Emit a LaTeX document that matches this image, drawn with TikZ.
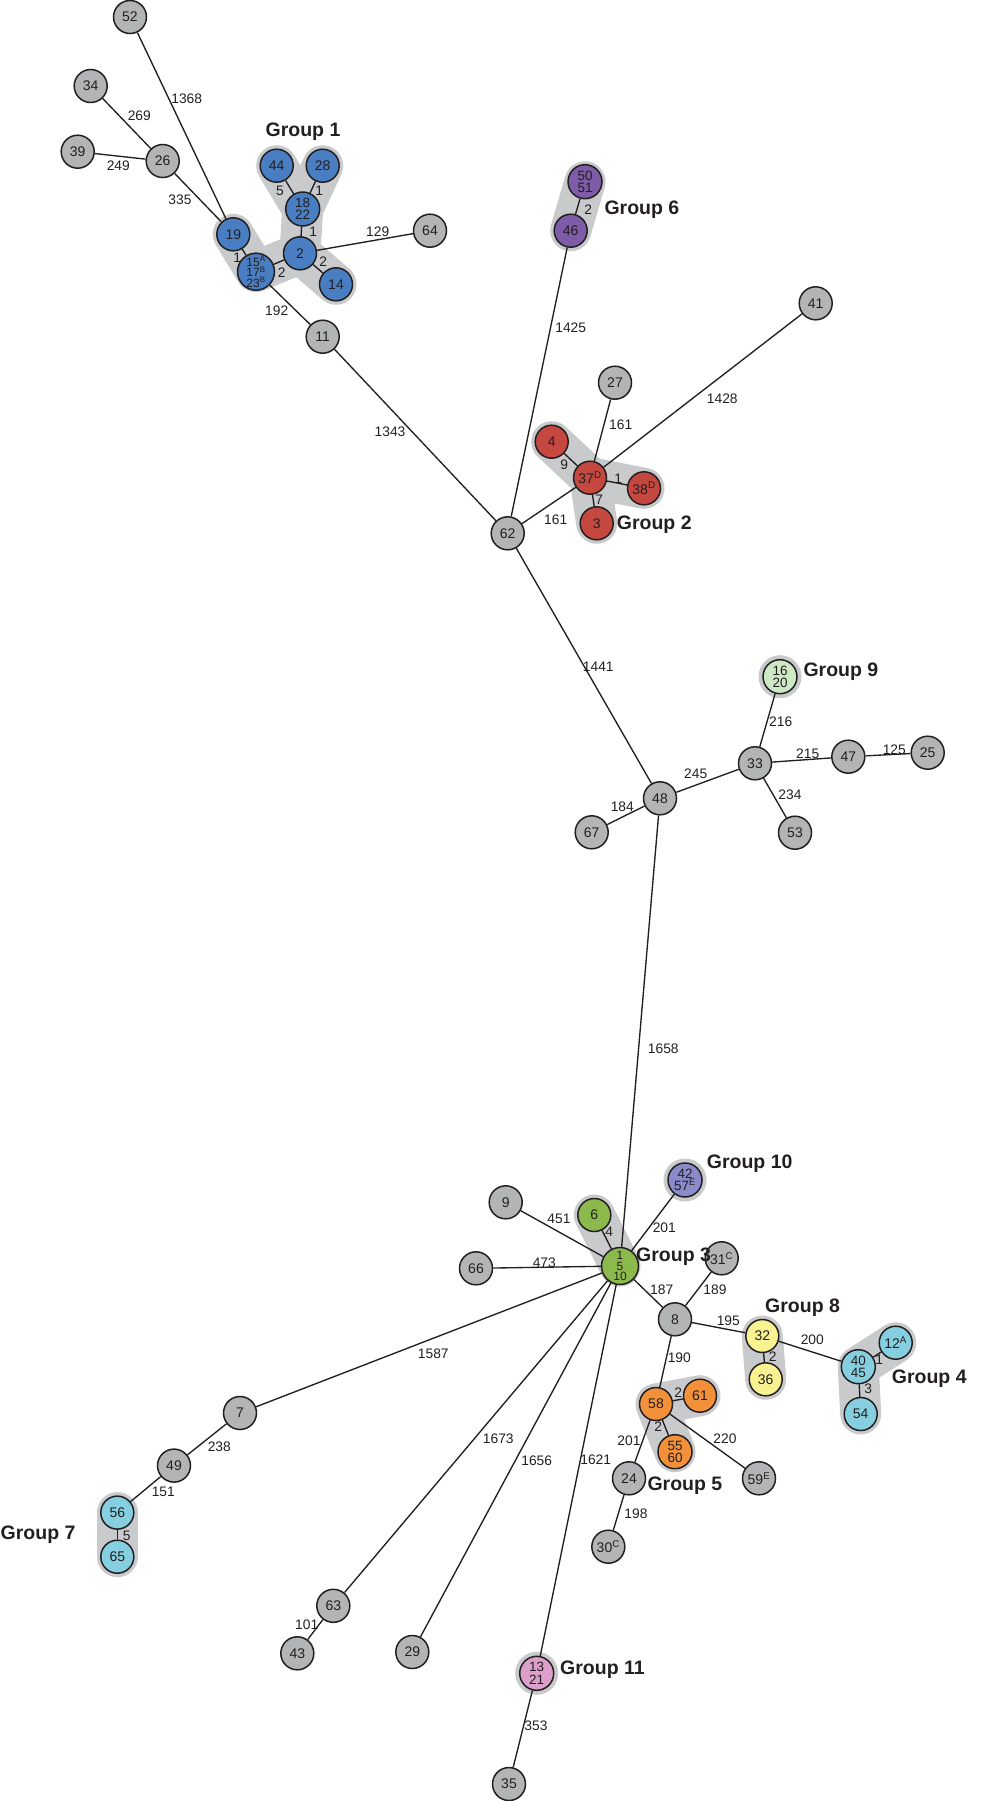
\documentclass[tikz,border=0pt]{standalone}
\usepackage{fontspec}
\setmainfont{Liberation Sans}
\usetikzlibrary{backgrounds}
\definecolor{ngray}{HTML}{B3B4B6}
\definecolor{halocol}{HTML}{C9CACC}
\definecolor{cblue}{HTML}{4A7EC2}
\definecolor{cred}{HTML}{C4483F}
\definecolor{cpurple}{HTML}{7F5CA8}
\definecolor{cgreen}{HTML}{8CB94C}
\definecolor{clgreen}{HTML}{CDE8C4}
\definecolor{clav}{HTML}{8B8BCB}
\definecolor{cyellow}{HTML}{F8F291}
\definecolor{corange}{HTML}{F3913A}
\definecolor{ccyan}{HTML}{86CFE0}
\definecolor{cpink}{HTML}{DC9FCB}
\definecolor{ink}{HTML}{231F20}
\newcommand{\sups}[1]{\textsuperscript{#1}}
\tikzset{
  nd/.style={circle, draw=ink, line width=1.5pt, minimum size=33pt, inner sep=0pt,
             font=\fontsize{14}{14}\selectfont, text=ink, align=center},
  gr/.style={nd, fill=ngray},
  twoline/.style={minimum size=34pt, font=\fontsize{13.5}{12.5}\selectfont},
  threeline/.style={minimum size=37pt, font=\fontsize{12}{10.5}\selectfont},
  ed/.style={draw=ink, line width=1.35pt},
  elab/.style={inner sep=0pt, font=\fontsize{13.8}{14}\selectfont, text=ink},
  glab/.style={inner sep=0pt, anchor=west, font=\fontsize{19.5}{20}\selectfont\bfseries, text=ink},
  halo/.style={draw=halocol, line width=41pt, line cap=round, line join=round}
}
\begin{document}
\begin{tikzpicture}[x=1pt,y=-1pt]
\useasboundingbox (0,0) rectangle (1008,1801);

% ---------- gray nodes ----------
\node[gr] (n52) at (130,17) {52};
\node[gr] (n34) at (90.7,86) {34};
\node[gr] (n39) at (77.7,151.7) {39};
\node[gr] (n26) at (162.7,161) {26};
\node[gr] (n64) at (430,230.7) {64};
\node[gr] (n11) at (322.7,336.7) {11};
\node[gr] (n62) at (507.7,533.3) {62};
\node[gr] (n27) at (615,382.7) {27};
\node[gr] (n41) at (815.7,303.3) {41};
\node[gr] (n48) at (660,798.3) {48};
\node[gr] (n67) at (591.7,832.3) {67};
\node[gr] (n33) at (755,763.3) {33};
\node[gr] (n47) at (848.3,756.7) {47};
\node[gr] (n25) at (927.7,752.7) {25};
\node[gr] (n53) at (795,832.7) {53};
\node[gr] (n9) at (505.7,1202.3) {9};
\node[gr] (n66) at (476,1268.3) {66};
\node[gr] (n31) at (721.7,1258.3) {31\sups{C}};
\node[gr] (n8) at (675,1319.3) {8};
\node[gr] (n59) at (759,1478.3) {59\sups{E}};
\node[gr] (n24) at (629,1478.3) {24};
\node[gr] (n30) at (608.3,1546.7) {30\sups{C}};
\node[gr] (n7) at (240,1413) {7};
\node[gr] (n49) at (174,1465.6) {49};
\node[gr] (n63) at (333.3,1605.8) {63};
\node[gr] (n43) at (297.3,1653.3) {43};
\node[gr] (n29) at (412.3,1652) {29};
\node[gr] (n35) at (509,1784) {35};

% ---------- group 1 ----------
\node[nd, fill=cblue] (n19) at (233.3,234.3) {19};
\node[nd, threeline, fill=cblue] (n15) at (256,271.7) {15\sups{A}\\17\sups{B}\\23\sups{B}};
\node[nd, fill=cblue] (n2) at (300,253.3) {2};
\node[nd, fill=cblue] (n14) at (336,284.3) {14};
\node[nd, twoline, fill=cblue] (n18) at (302.7,209) {18\\22};
\node[nd, fill=cblue] (n44) at (276.7,165.7) {44};
\node[nd, fill=cblue] (n28) at (322.7,165.7) {28};
% ---------- group 2 ----------
\node[nd, fill=cred] (n4) at (551.7,441.7) {4};
\node[nd, fill=cred] (n37) at (590,477.7) {37\sups{D}};
\node[nd, fill=cred] (n38) at (644,488.3) {38\sups{D}};
\node[nd, fill=cred] (n3) at (596.7,523.3) {3};
% ---------- group 6 ----------
\node[nd, twoline, fill=cpurple] (n50) at (585,181.7) {50\\51};
\node[nd, fill=cpurple] (n46) at (570.7,230.7) {46};
% ---------- group 9 ----------
\node[nd, twoline, fill=clgreen] (n16) at (780,676.7) {16\\20};
% ---------- group 3 ----------
\node[nd, fill=cgreen] (n6) at (594.3,1215) {6};
\node[nd, threeline, fill=cgreen] (n1) at (620,1266) {1\\5\\10};
% ---------- group 10 ----------
\node[nd, twoline, fill=clav] (n42) at (685,1180) {42\\57\sups{E}};
% ---------- group 8 ----------
\node[nd, fill=cyellow] (n32) at (762.3,1336) {32};
\node[nd, fill=cyellow] (n36) at (765.7,1379.3) {36};
% ---------- group 4 ----------
\node[nd, twoline, fill=ccyan] (n40) at (858.3,1366.7) {40\\45};
\node[nd, fill=ccyan] (n12) at (895.7,1342.7) {12\sups{A}};
\node[nd, fill=ccyan] (n54) at (860.7,1414) {54};
% ---------- group 5 ----------
\node[nd, fill=corange] (n58) at (656,1404) {58};
\node[nd, fill=corange] (n61) at (700,1395.7) {61};
\node[nd, twoline, fill=corange] (n55) at (675,1451.7) {55\\60};
% ---------- group 7 ----------
\node[nd, fill=ccyan] (n56) at (117.3,1512.6) {56};
\node[nd, fill=ccyan] (n65) at (117.3,1556.7) {65};
% ---------- group 11 ----------
\node[nd, twoline, fill=cpink] (n13) at (536.7,1673.3) {13\\21};

% ---------- edges ----------
\draw[ed] (n52) -- (n19);
\draw[ed] (n26) -- (n19);
\draw[ed] (n34) -- (n26);
\draw[ed] (n39) -- (n26);
\draw[ed] (n19) -- (n15);
\draw[ed] (n15) -- (n2);
\draw[ed] (n15) -- (n11);
\draw[ed] (n2) -- (n18);
\draw[ed] (n18) -- (n44);
\draw[ed] (n18) -- (n28);
\draw[ed] (n2) -- (n14);
\draw[ed] (n2) -- (n64);
\draw[ed] (n11) -- (n62);
\draw[ed] (n62) -- (n46);
\draw[ed] (n46) -- (n50);
\draw[ed] (n62) -- (n37);
\draw[ed] (n37) -- (n4);
\draw[ed] (n37) -- (n38);
\draw[ed] (n37) -- (n3);
\draw[ed] (n37) -- (n27);
\draw[ed] (n37) -- (n41);
\draw[ed] (n62) -- (n48);
\draw[ed] (n48) -- (n67);
\draw[ed] (n48) -- (n33);
\draw[ed] (n33) -- (n16);
\draw[ed] (n33) -- (n47);
\draw[ed] (n47) -- (n25);
\draw[ed] (n33) -- (n53);
\draw[ed] (n48) -- (n1);
\draw[ed] (n1) -- (n9);
\draw[ed] (n1) -- (n6);
\draw[ed] (n1) -- (n66);
\draw[ed] (n1) -- (n42);
\draw[ed] (n1) -- (n8);
\draw[ed] (n1) -- (n7);
\draw[ed] (n1) -- (n63);
\draw[ed] (n1) -- (n29);
\draw[ed] (n1) -- (n13);
\draw[ed] (n8) -- (n31);
\draw[ed] (n8) -- (n32);
\draw[ed] (n8) -- (n58);
\draw[ed] (n32) -- (n36);
\draw[ed] (n32) -- (n40);
\draw[ed] (n40) -- (n12);
\draw[ed] (n40) -- (n54);
\draw[ed] (n58) -- (n61);
\draw[ed] (n58) -- (n55);
\draw[ed] (n58) -- (n59);
\draw[ed] (n58) -- (n24);
\draw[ed] (n24) -- (n30);
\draw[ed] (n7) -- (n49);
\draw[ed] (n49) -- (n56);
\draw[ed] (n56) -- (n65);
\draw[ed] (n63) -- (n43);
\draw[ed] (n13) -- (n35);

% ---------- edge labels ----------
\node[elab] (l1) at (186.7,99) {1368};
\node[elab] (l2) at (139.3,116) {269};
\node[elab] (l3) at (118.3,165.7) {249};
\node[elab] (l4) at (180,200) {335};
\node[elab] (l5) at (280,191) {5};
\node[elab] (l6) at (319.3,191) {1};
\node[elab] (l7) at (313.3,231.7) {1};
\node[elab] (l8) at (377.7,231.7) {129};
\node[elab] (l9) at (323.3,261.7) {2};
\node[elab] (l10) at (281.7,272.3) {2};
\node[elab] (l11) at (237.3,257.7) {1};
\node[elab] (l12) at (276.7,310.7) {192};
\node[elab] (l13) at (390,431.7) {1343};
\node[elab] (l14) at (570.7,327.3) {1425};
\node[elab] (l15) at (588.3,209.3) {2};
\node[elab] (l16) at (722.3,398.3) {1428};
\node[elab] (l17) at (620.7,424.3) {161};
\node[elab] (l18) at (564.3,464.3) {9};
\node[elab] (l19) at (618.3,478.3) {1};
\node[elab] (l20) at (599.3,499.3) {7};
\node[elab] (l21) at (555.7,520) {161};
\node[elab] (l22) at (598.3,666.7) {1441};
\node[elab] (l23) at (780.7,721.7) {216};
\node[elab] (l24) at (807.7,753.3) {215};
\node[elab] (l25) at (894.3,749.3) {125};
\node[elab] (l26) at (695.7,773.3) {245};
\node[elab] (l27) at (790,795) {234};
\node[elab] (l28) at (622.3,806.7) {184};
\node[elab] (l29) at (663.3,1048.3) {1658};
\node[elab] (l30) at (664.3,1227.7) {201};
\node[elab] (l31) at (609.3,1231.7) {4};
\node[elab] (l32) at (559,1219.3) {451};
\node[elab] (l33) at (544.3,1262.3) {473};
\node[elab] (l34) at (661.7,1289.3) {187};
\node[elab] (l35) at (715,1289.3) {189};
\node[elab] (l36) at (728.3,1321) {195};
\node[elab] (l37) at (812.3,1340) {200};
\node[elab] (l38) at (772.7,1356.7) {2};
\node[elab] (l39) at (879.3,1360) {1};
\node[elab] (l40) at (868.3,1388.3) {3};
\node[elab] (l41) at (679.3,1357.7) {190};
\node[elab] (l42) at (678.3,1392.3) {2};
\node[elab] (l43) at (658.3,1426.7) {2};
\node[elab] (l44) at (725,1438.3) {220};
\node[elab] (l45) at (629,1441) {201};
\node[elab] (l46) at (636,1514) {198};
\node[elab] (l47) at (498.3,1439) {1673};
\node[elab] (l48) at (536.7,1461) {1656};
\node[elab] (l49) at (595.7,1460) {1621};
\node[elab] (l50) at (433.3,1353.3) {1587};
\node[elab] (l51) at (219.3,1447) {238};
\node[elab] (l52) at (163.3,1492.3) {151};
\node[elab] (l53) at (126.7,1535.5) {5};
\node[elab] (l54) at (306.7,1624.5) {101};
\node[elab] (l55) at (536,1726) {353};

% ---------- group labels ----------
\node[glab, anchor=center] (g1) at (303,132) {Group 1};
\node[glab] (g6) at (604.3,209.3) {Group 6};
\node[glab] (g2) at (616.7,524.3) {Group 2};
\node[glab] (g9) at (803.3,671.7) {Group 9};
\node[glab] (g10) at (706.7,1163.3) {Group 10};
\node[glab] (g3) at (636,1256.7) {Group 3};
\node[glab] (g8) at (765,1307.7) {Group 8};
\node[glab] (g4) at (891.7,1378.3) {Group 4};
\node[glab] (g5) at (647.3,1486) {Group 5};
\node[glab] (g7) at (0.5,1534.7) {Group 7};
\node[glab] (g11) at (560,1670) {Group 11};

% ---------- halos ----------
\begin{scope}[on background layer]
\draw[halo] (n19.center) -- (n15.center) -- (n2.center) -- (n14.center);
\draw[halo] (n2.center) -- (n18.center) -- (n44.center);
\draw[halo] (n18.center) -- (n28.center);
\draw[halo] (n4.center) -- (n37.center) -- (n3.center);
\draw[halo] (n37.center) -- (n38.center);
\draw[halo] (n50.center) -- (n46.center);
\draw[halo] (n6.center) -- (n1.center);
\draw[halo] (n32.center) -- (n36.center);
\draw[halo] (n12.center) -- (n40.center) -- (n54.center);
\draw[halo] (n61.center) -- (n58.center) -- (n55.center);
\draw[halo] (n56.center) -- (n65.center);
\fill[halocol] (n16.center) circle (21.5);
\fill[halocol] (n42.center) circle (21.5);
\fill[halocol] (n13.center) circle (21.5);
\end{scope}
\end{tikzpicture}
\end{document}
